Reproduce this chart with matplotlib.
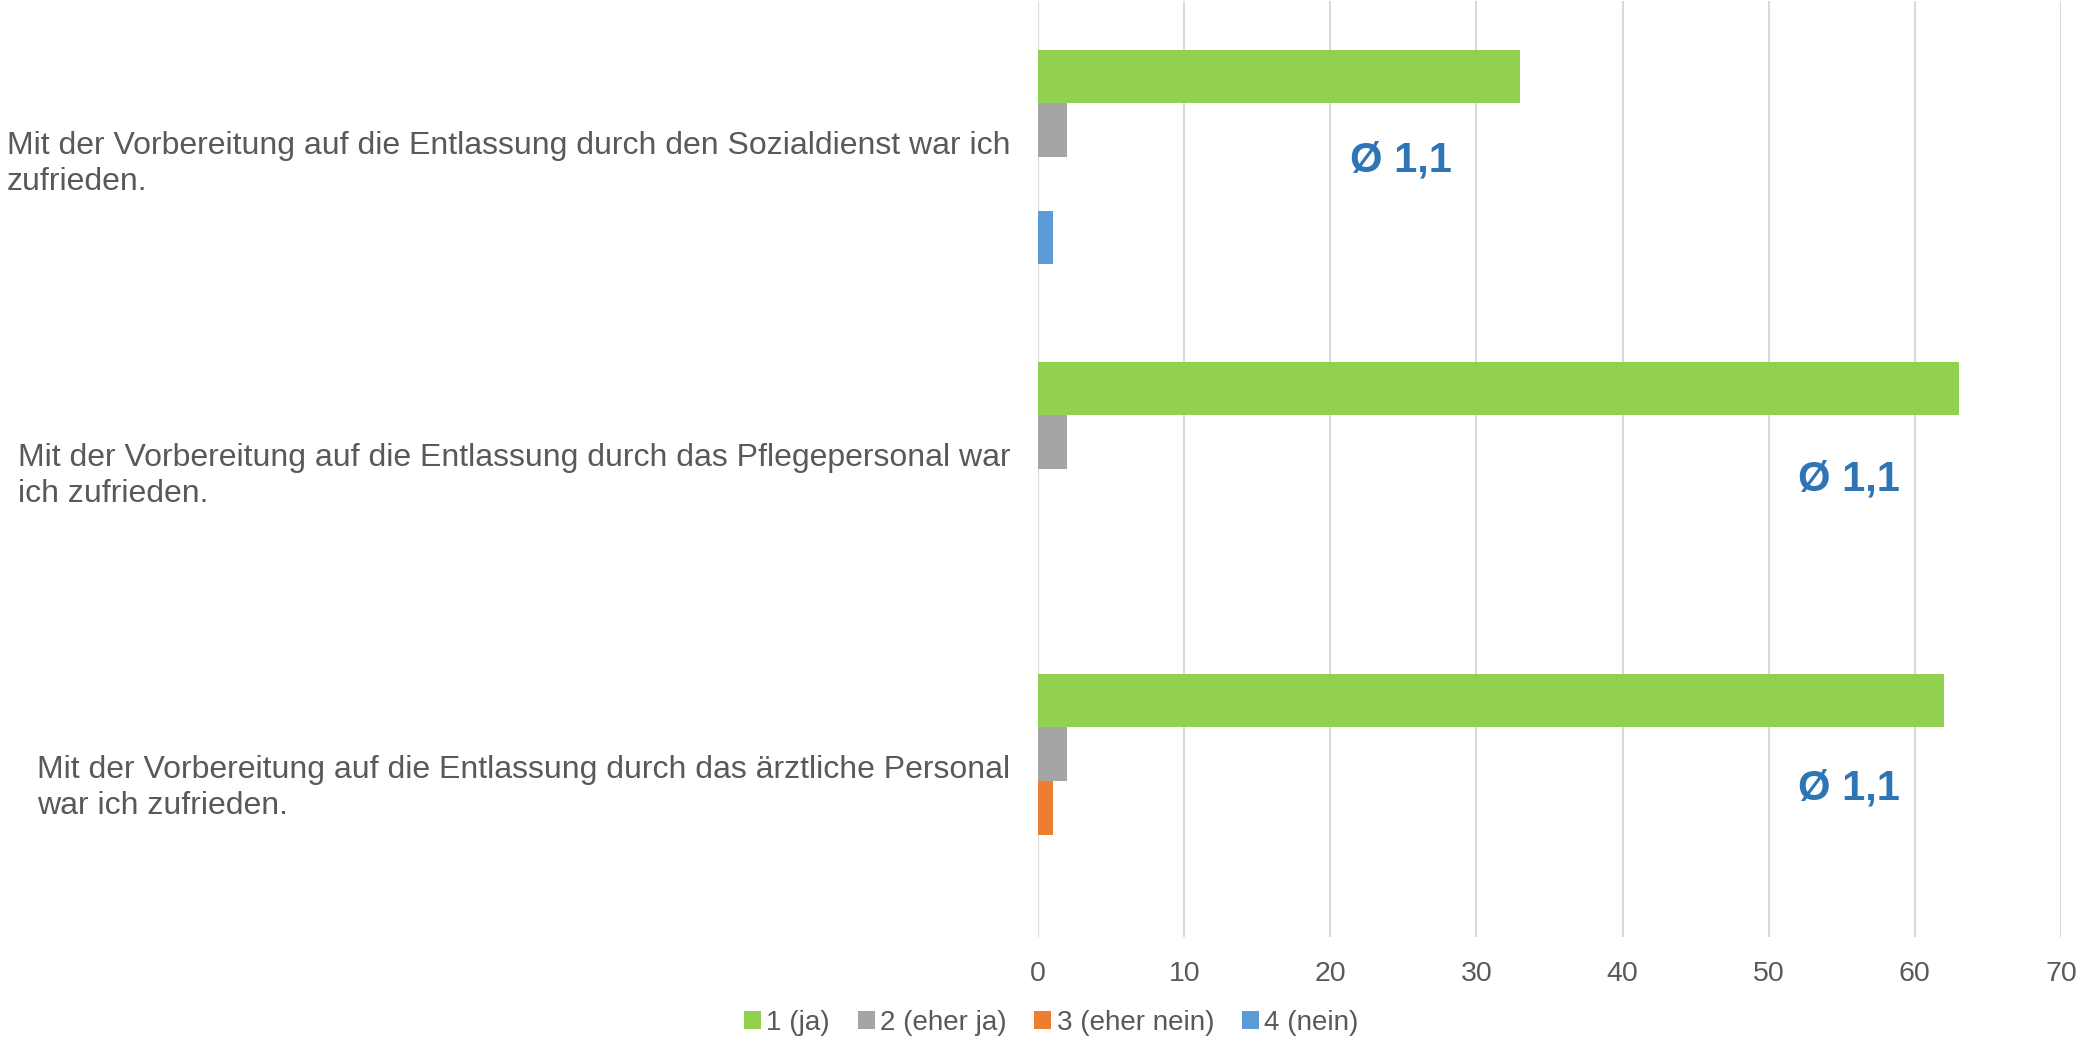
import numpy as np
import matplotlib.pyplot as plt

plt.rcParams['font.family'] = ['Liberation Sans', 'DejaVu Sans']

categories = [
    "Mit der Vorbereitung auf die Entlassung durch den Sozialdienst war ich\nzufrieden.",
    "Mit der Vorbereitung auf die Entlassung durch das Pflegepersonal war\nich zufrieden.",
    "Mit der Vorbereitung auf die Entlassung durch das ärztliche Personal\nwar ich zufrieden.",
]
series_names = ["1 (ja)", "2 (eher ja)", "3 (eher nein)", "4 (nein)"]
ja = [33, 63, 62]
eher_ja = [2, 2, 2]
eher_nein = [0, 0, 1]
nein = [1, 0, 0]
averages = ["Ø 1,1", "Ø 1,1", "Ø 1,1"]

colors = ['#92D050', '#A5A5A5', '#ED7D31', '#5B9BD5']
text_grey = '#595959'

fig = plt.figure(figsize=(20.82, 10.40), dpi=100)
ax = fig.add_axes([0.4986, 0.099, 0.4913, 0.9])

ypos = np.array([2, 1, 0])
h = 0.172
for i, vals in enumerate([ja, eher_ja, eher_nein, nein]):
    ax.barh(ypos + (1.5 - i) * h, vals, height=h, color=colors[i],
            label=series_names[i], zorder=3)

# average labels
ax.text(24.8, ypos[0] - 0.01, averages[0], color='#2E75B6', fontsize=30,
        fontweight='bold', ha='center', va='center')
ax.text(55.5, ypos[1] - 0.035, averages[1], color='#2E75B6', fontsize=30,
        fontweight='bold', ha='center', va='center')
ax.text(55.5, ypos[2] - 0.025, averages[2], color='#2E75B6', fontsize=30,
        fontweight='bold', ha='center', va='center')

ax.set_xlim(0, 70)
ax.set_ylim(-0.5, 2.5)
ax.set_xticks(range(0, 71, 10))
ax.set_yticks(ypos)
ax.set_yticklabels(categories)
for t in ax.get_yticklabels():
    t.set_multialignment('left')
    t.set_linespacing(1.3)
ax.tick_params(axis='y', length=0, pad=20, labelsize=23, labelcolor=text_grey)
ax.tick_params(axis='x', length=0, pad=17, labelsize=20.5, labelcolor=text_grey)
ax.grid(axis='x', color='#D9D9D9', linewidth=1.5, zorder=0)
for s in ax.spines.values():
    s.set_visible(False)

handles, labels = ax.get_legend_handles_labels()
fig.legend(handles, labels, loc='lower center', bbox_to_anchor=(0.505, -0.02),
           ncol=4, frameon=False, fontsize=20, handlelength=0.6, handleheight=0.6,
           handletextpad=0.2, columnspacing=1.0, labelcolor=text_grey)

fig.savefig('out.png', dpi=100)
